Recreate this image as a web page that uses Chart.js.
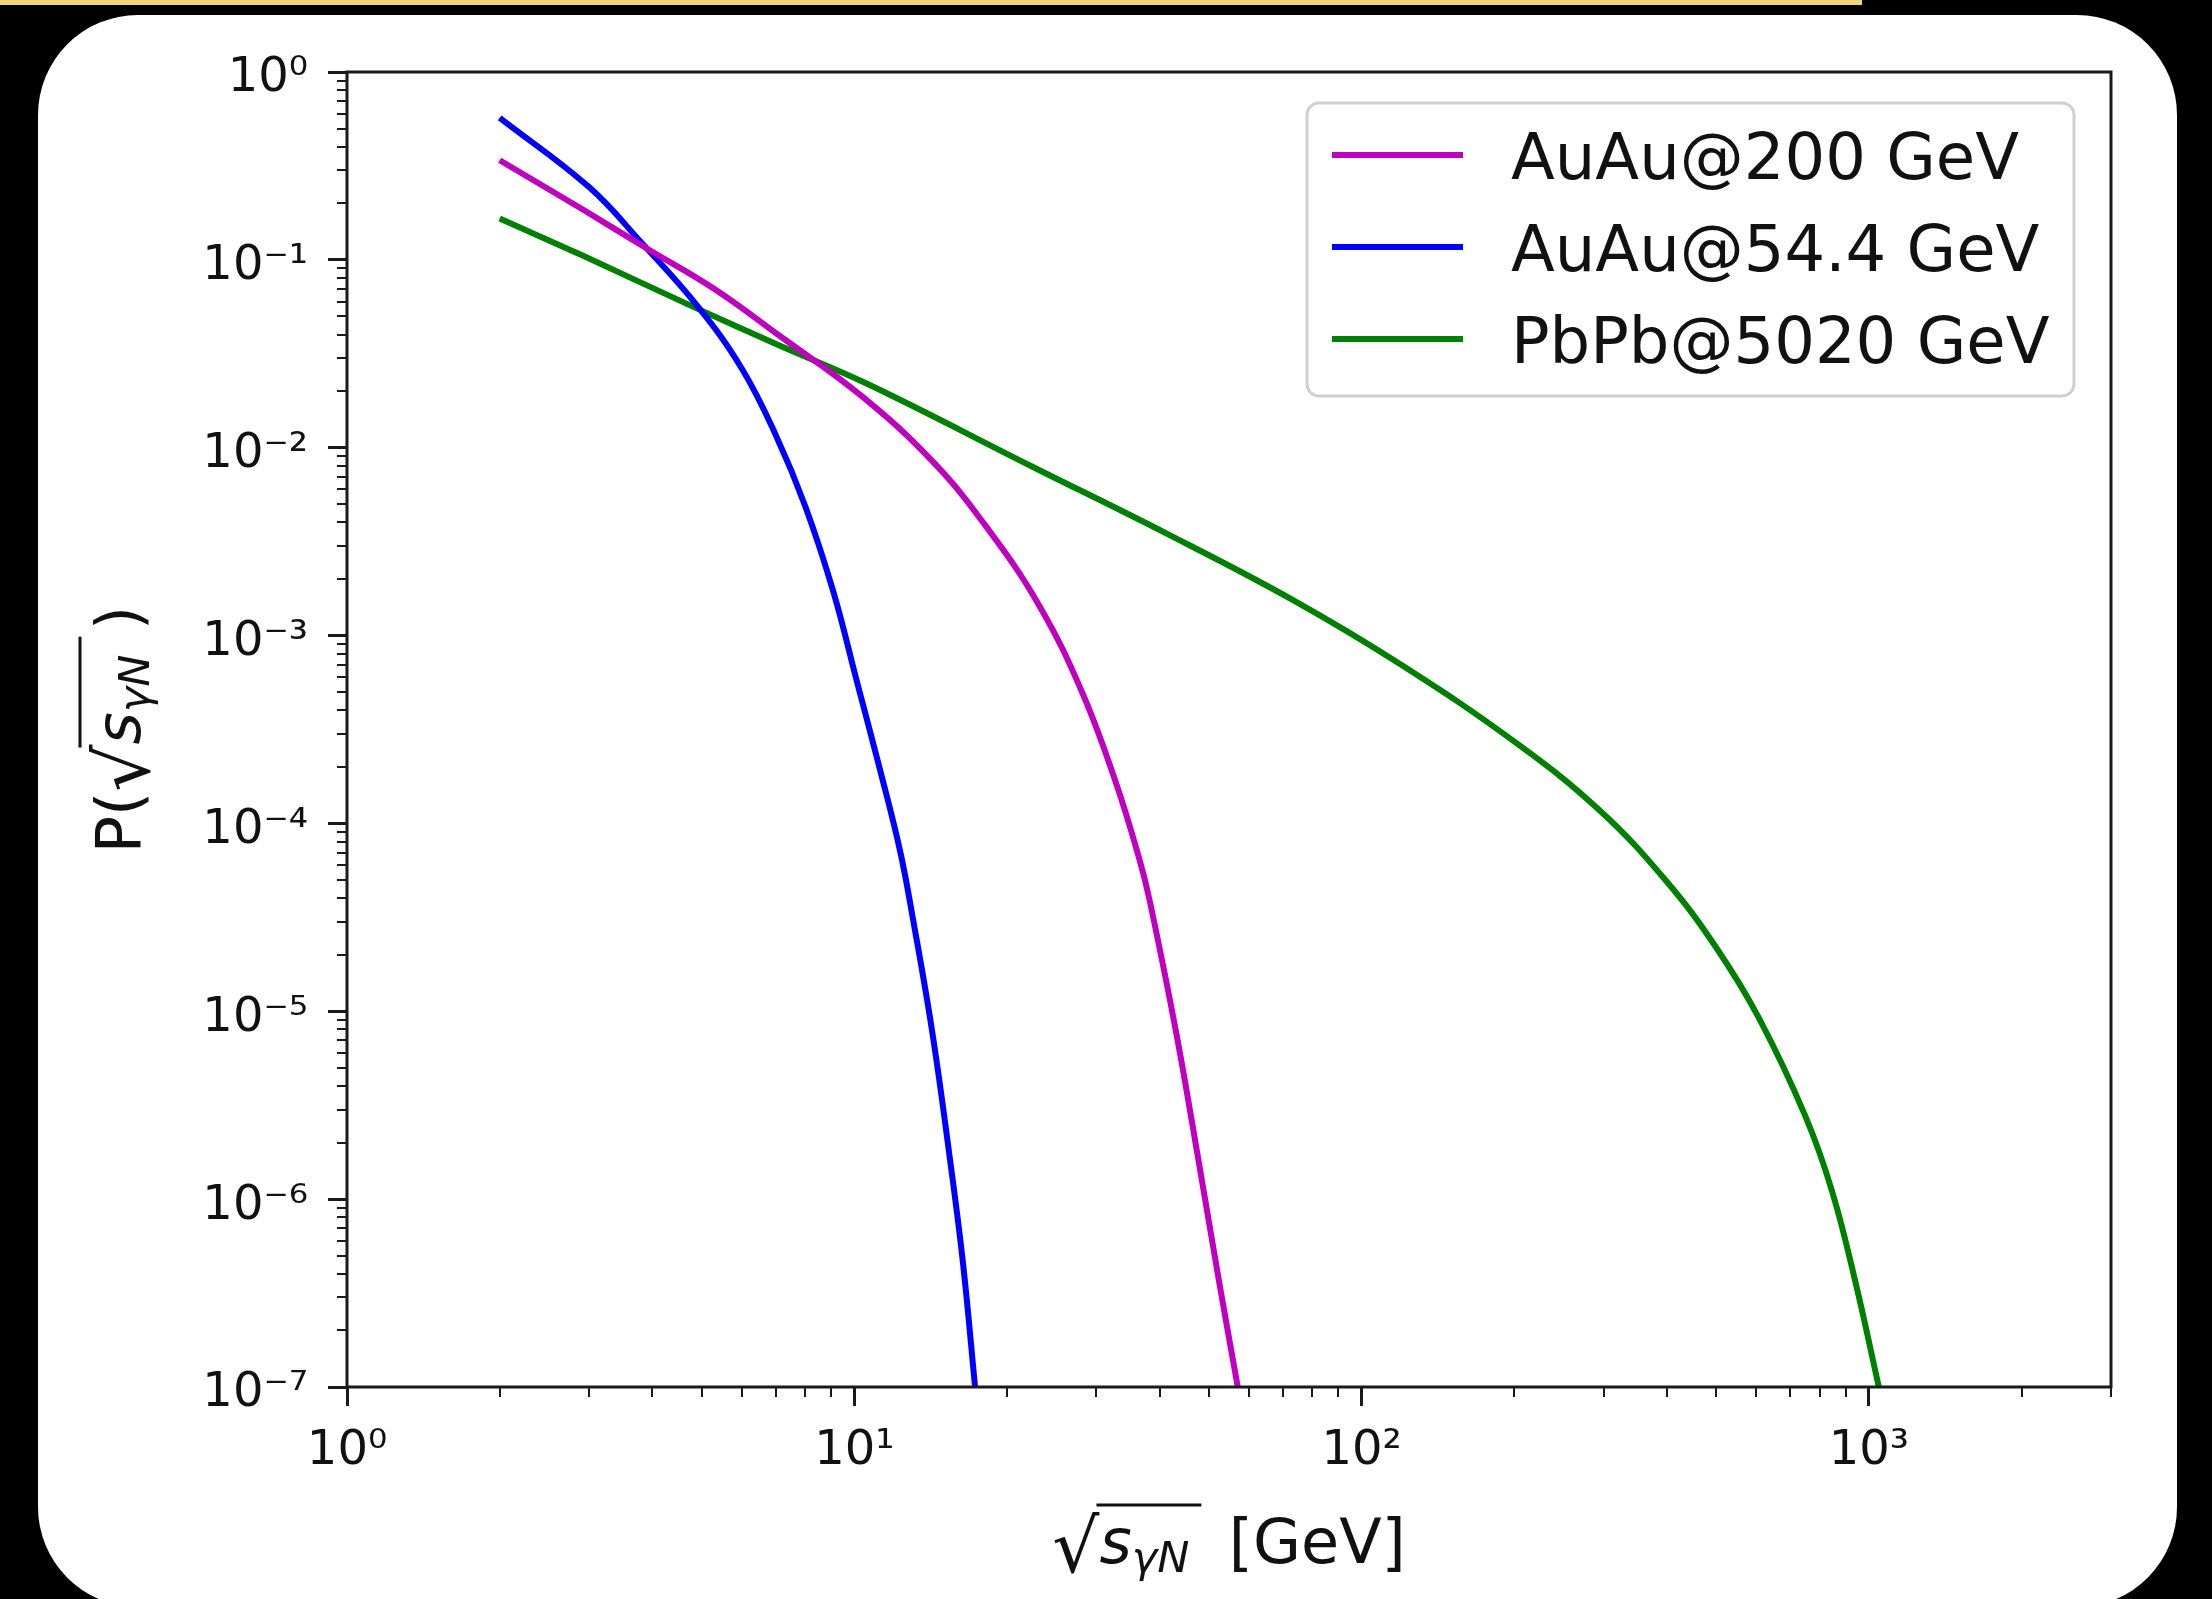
<!DOCTYPE html>
<html>
<head>
<meta charset="utf-8">
<title>P(√s_γN)</title>
<script src="https://cdn.jsdelivr.net/npm/chart.js@4.4.1/dist/chart.umd.min.js"></script>
<style>
  html, body { margin: 0; padding: 0; background: #000; width: 2212px; height: 1599px; overflow: hidden; }
  #strip { position: absolute; left: 0; top: 0; width: 1862px; height: 5px; background: #f1d57e; }
  #card { position: absolute; left: 38px; top: 15px; width: 2139px; height: 1592px; background: #fff; border-radius: 100px; }
  #chart { position: absolute; left: 0; top: 0; }
</style>
</head>
<body>
<div id="strip"></div>
<div id="card"></div>
<canvas id="chart" width="2212" height="1599"></canvas>
<script>
// values (sqrt(s) in GeV, probability)
const energy200 = [2, 2.9, 3.9, 5.3, 7.1, 10.4, 14.3, 18.2, 23.2, 28.2, 32.8, 36.5, 38.2, 43.1, 47.9, 52.4, 57.0];
const prob200 = [0.339, 0.187, 0.115, 0.070, 0.0397, 0.0186, 0.0084, 0.0038, 0.00143, 4.9e-4, 1.64e-4, 6.4e-5, 3.9e-5, 7.7e-6, 1.5e-6, 3.6e-7, 1.0e-7];

const energy544 = [2, 3, 3.8, 4.9, 6, 7, 8, 9.1, 10.1, 11.2, 12.3, 13.05, 14.25, 15.5, 16.4, 17.3];
const prob544 = [0.57, 0.244, 0.124, 0.057, 0.0264, 0.0117, 0.0049, 0.0017, 5.8e-4, 2.0e-4, 7.2e-5, 3.1e-5, 7.7e-6, 1.5e-6, 4.4e-7, 1.0e-7];

const energy5020 = [2, 2.9, 4.9, 7.1, 10.6, 22.5, 41.2, 73.1, 118.6, 201, 294, 397, 499, 607, 750, 846, 941, 1046];
const prob5020 = [0.166, 0.106, 0.055, 0.0351, 0.0219, 0.0079, 0.0035, 0.00155, 7.1e-4, 2.7e-4, 1.18e-4, 5.0e-5, 2.2e-5, 9.2e-6, 2.75e-6, 1.1e-6, 3.6e-7, 1.0e-7];

const seriesLabels = ['AuAu@200 GeV', 'AuAu@54.4 GeV', 'PbPb@5020 GeV'];
const seriesColors = ['#bf00bf', '#0000ff', '#008000'];

const xTicks = [1, 10, 100, 1000];
const yTicks = [1e-7, 1e-6, 1e-5, 1e-4, 1e-3, 1e-2, 1e-1, 1];

const FONT = '"DejaVu Sans", sans-serif';
const SUP = { '-': '⁻', '0': '⁰', '1': '¹', '2': '²', '3': '³', '4': '⁴', '5': '⁵', '6': '⁶', '7': '⁷', '8': '⁸', '9': '⁹' };

function powLabel(value) {
    const e = Math.round(Math.log10(value));
    return '10' + String(e).split('').map(c => SUP[c]).join('');
}

function toPoints(xs, ys) {
    return xs.map((x, i) => ({ x: x, y: ys[i] }));
}

// lay out a row of text pieces centred on cx, returns the overline span
function drawPieces(ctx, pieces, cx, baseY) {
    let total = 0;
    pieces.forEach(p => {
        ctx.font = p.font;
        p.w = ctx.measureText(p.text).width;
        total += p.w;
    });
    let x = cx - total / 2;
    let start = null, end = null;
    pieces.forEach(p => {
        ctx.font = p.font;
        ctx.fillText(p.text, x, baseY + (p.dy || 0));
        if (p.over) {
            if (start === null) start = x;
            end = x + p.w;
        }
        x += p.w;
    });
    return { start, end };
}

function sqrtPieces(size, before, after) {
    return [
        { text: before, font: `${size}px ${FONT}` },
        { text: '√', font: `${Math.round(size * 1.2)}px ${FONT}`, dy: 9 },
        { text: 's', font: `italic ${size}px ${FONT}`, over: true },
        { text: 'γN', font: `italic ${Math.round(size * 0.7)}px ${FONT}`, dy: size * 0.15, over: true },
        { text: after, font: `${size}px ${FONT}` }
    ];
}

function drawOverline(ctx, span, y, extra) {
    ctx.lineWidth = 3;
    ctx.beginPath();
    ctx.moveTo(span.start - 3, y);
    ctx.lineTo(span.end + extra, y);
    ctx.stroke();
}

const decorPlugin = {
    id: 'decor',
    afterDatasetsDraw(chart) {
        const { ctx, chartArea: a, scales: { x, y } } = chart;
        ctx.save();
        ctx.strokeStyle = '#1a1a1a';

        // minor ticks
        ctx.lineWidth = 2;
        ctx.beginPath();
        for (let e = 0; e <= 3; e++) {
            for (let m = 2; m <= 9; m++) {
                const v = m * Math.pow(10, e);
                if (v > x.max) break;
                const px = Math.round(x.getPixelForValue(v));
                ctx.moveTo(px, a.bottom);
                ctx.lineTo(px, a.bottom + 10);
            }
        }
        for (let e = -7; e < 0; e++) {
            for (let m = 2; m <= 9; m++) {
                const py = Math.round(y.getPixelForValue(m * Math.pow(10, e)));
                ctx.moveTo(a.left - 10, py);
                ctx.lineTo(a.left, py);
            }
        }
        ctx.stroke();

        // axes frame
        ctx.lineWidth = 3;
        ctx.strokeRect(a.left, a.top, a.right - a.left, a.bottom - a.top);
        ctx.restore();
    },
    afterDraw(chart) {
        const { ctx, chartArea: a } = chart;
        ctx.save();
        ctx.fillStyle = '#111';
        ctx.strokeStyle = '#111';
        ctx.textBaseline = 'alphabetic';
        ctx.textAlign = 'left';

        // x axis title
        const S = 62;
        const cx = (a.left + a.right) / 2;
        let span = drawPieces(ctx, sqrtPieces(S, '', '  [GeV]'), cx, 1563);
        drawOverline(ctx, span, 1563 - 58, 12);

        // y axis title (rotated)
        ctx.translate(140, (a.top + a.bottom) / 2);
        ctx.rotate(-Math.PI / 2);
        span = drawPieces(ctx, sqrtPieces(S, 'P(', '\u2009\u2009)'), 0, 0);
        drawOverline(ctx, span, -60, 18);
        ctx.restore();

        // legend
        ctx.save();
        const bx = a.right - 37, by = a.top + 31;
        const bw = 767, bh = 293;
        ctx.beginPath();
        ctx.roundRect(bx - bw, by, bw, bh, 12);
        ctx.fillStyle = 'rgba(255,255,255,0.8)';
        ctx.fill();
        ctx.lineWidth = 3;
        ctx.strokeStyle = '#d0d0d0';
        ctx.stroke();
        ctx.font = `64px ${FONT}`;
        ctx.textBaseline = 'middle';
        chart.data.datasets.forEach((ds, i) => {
            const ly = by + 52 + i * 92;
            ctx.strokeStyle = ds.borderColor;
            ctx.lineWidth = 6;
            ctx.beginPath();
            ctx.moveTo(bx - bw + 25, ly);
            ctx.lineTo(bx - bw + 156, ly);
            ctx.stroke();
            ctx.fillStyle = '#111';
            ctx.fillText(ds.label, bx - bw + 204, ly + 7);
        });
        ctx.restore();
    }
};

const datasets = [
    [energy200, prob200],
    [energy544, prob544],
    [energy5020, prob5020]
].map((s, i) => ({
    label: seriesLabels[i],
    data: toPoints(s[0], s[1]),
    borderColor: seriesColors[i],
    backgroundColor: seriesColors[i],
    borderWidth: 6,
    pointRadius: 0,
    fill: false,
    tension: 0.4
}));

const tickFont = { family: FONT, size: 48 };
const gridOpts = { drawOnChartArea: false, drawTicks: true, tickLength: 19, tickWidth: 3, tickColor: '#1a1a1a' };

new Chart(document.getElementById('chart'), {
    type: 'line',
    data: { datasets },
    options: {
        responsive: false,
        animation: false,
        devicePixelRatio: 1,
        layout: { padding: { left: 0, top: 72, right: 101, bottom: 0 } },
        plugins: { legend: { display: false }, tooltip: { enabled: false } },
        scales: {
            x: {
                type: 'logarithmic',
                min: 1,
                max: 3000,
                afterBuildTicks: s => { s.ticks = xTicks.map(v => ({ value: v })); },
                afterFit: s => { s.height = 212; },
                grid: gridOpts,
                border: { display: false },
                ticks: { callback: powLabel, font: tickFont, color: '#111', padding: 17, maxRotation: 0, autoSkip: false }
            },
            y: {
                type: 'logarithmic',
                min: 1e-7,
                max: 1,
                afterBuildTicks: s => { s.ticks = yTicks.map(v => ({ value: v })); },
                afterFit: s => { s.width = 347; },
                grid: gridOpts,
                border: { display: false },
                ticks: { callback: powLabel, font: tickFont, color: '#111', padding: 20, labelOffset: 7, autoSkip: false }
            }
        }
    },
    plugins: [decorPlugin]
});
</script>
</body>
</html>
